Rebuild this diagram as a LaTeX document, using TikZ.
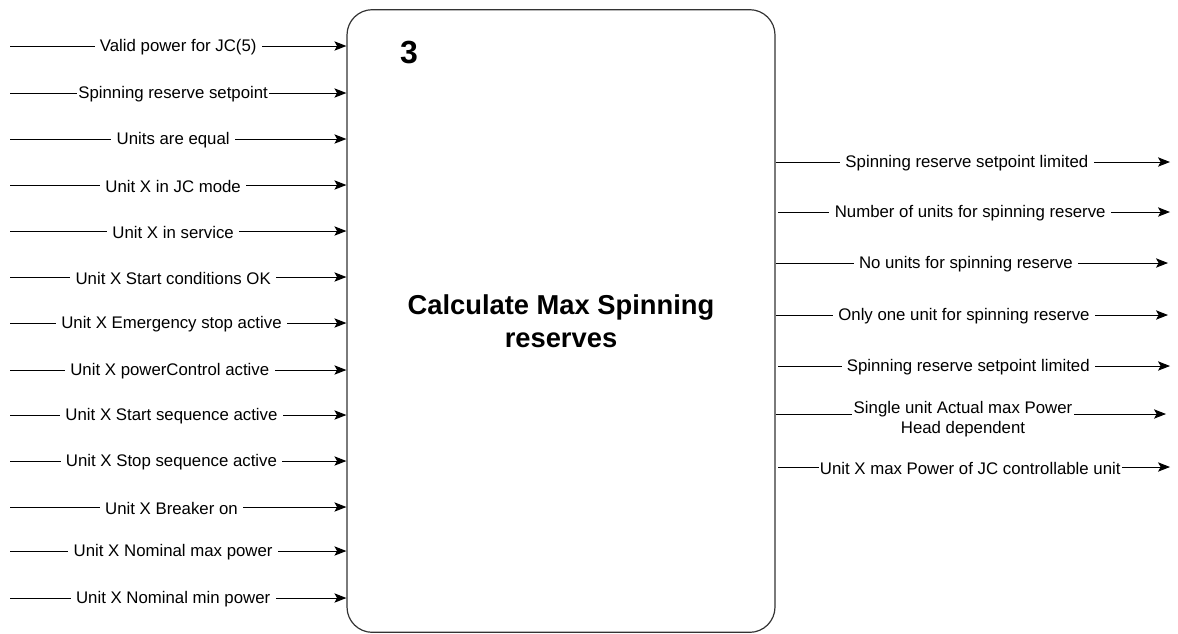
\documentclass[tikz,border=0pt]{standalone}
\usepackage{fontspec}
\setmainfont{Liberation Sans}
\usetikzlibrary{arrows.meta}

\tikzset{
  flow/.style={draw={rgb,255:red,0;green,0;blue,0}, line width=0.75pt, -{Stealth[length=9pt,width=7pt,inset=2pt]}},
  lbl/.style={fill=white, inner xsep=4pt, inner ysep=1pt, yshift=-0.8pt, font=\fontsize{12.6}{14.5}\selectfont},
  block/.style={draw={rgb,255:red,51;green,51;blue,51}, line width=0.9pt, rounded corners=19pt,
    minimum width=321pt, minimum height=467pt, align=center, font=\bfseries\fontsize{20.5}{25}\selectfont}
}

\begin{document}
\begin{tikzpicture}[x=0.75pt,y=0.75pt,yscale=-1]

\useasboundingbox (0,0) rectangle (1178,633);

%Shape: Rounded Rect
\node[block] (calc) at (561,321) {Calculate Max Spinning\\reserves};
% Text Node
\node[anchor=center, font=\bfseries\fontsize{24}{26}\selectfont] (num) at (409,53) {3};

% inputs
\coordinate (i1) at (10,46);
\coordinate (i2) at (10,93);
\coordinate (i3) at (10,139);
\coordinate (i4) at (10,185);
\coordinate (i5) at (10,231);
\coordinate (i6) at (10,277);
\coordinate (i7) at (10,323);
\coordinate (i8) at (10,370);
\coordinate (i9) at (10,415);
\coordinate (i10) at (10,461);
\coordinate (i11) at (10,507);
\coordinate (i12) at (10,551);
\coordinate (i13) at (10,598);

%Straight Lines
\draw[flow] (i1) -- node[lbl, pos=0.5] {Valid power for JC(5)} (calc.west |- i1);
\draw[flow] (i2) -- node[lbl, pos=0.485, inner xsep=1pt] {Spinning reserve setpoint} (calc.west |- i2);
\draw[flow] (i3) -- node[lbl, pos=0.485] {Units are equal} (calc.west |- i3);
\draw[flow] (i4) -- node[lbl, pos=0.485] {Unit X in JC mode} (calc.west |- i4);
\draw[flow] (i5) -- node[lbl, pos=0.485] {Unit X in service} (calc.west |- i5);
\draw[flow] (i6) -- node[lbl, pos=0.485] {Unit X Start conditions OK} (calc.west |- i6);
\draw[flow] (i7) -- node[lbl, pos=0.48] {Unit X Emergency stop active} (calc.west |- i7);
\draw[flow] (i8) -- node[lbl, pos=0.475] {Unit X powerControl active} (calc.west |- i8);
\draw[flow] (i9) -- node[lbl, pos=0.48] {Unit X Start sequence active} (calc.west |- i9);
\draw[flow] (i10) -- node[lbl, pos=0.48] {Unit X Stop sequence active} (calc.west |- i10);
\draw[flow] (i11) -- node[lbl, pos=0.48] {Unit X Breaker on} (calc.west |- i11);
\draw[flow] (i12) -- node[lbl, pos=0.485] {Unit X Nominal max power} (calc.west |- i12);
\draw[flow] (i13) -- node[lbl, pos=0.485] {Unit X Nominal min power} (calc.west |- i13);

% outputs
\coordinate (o1) at (1170,162);
\coordinate (o2) at (1170,212);
\coordinate (o3) at (1168,263);
\coordinate (o4) at (1168,315);
\coordinate (o5) at (1170,366);
\coordinate (o6) at (1166,414);
\coordinate (o7) at (1170,467);

%Straight Lines
\draw[flow] (calc.east |- o1) -- node[lbl, pos=0.485] {Spinning reserve setpoint limited} (o1);
\draw[flow] ([xshift=2pt]calc.east |- o2) -- node[lbl, pos=0.49] {Number of units for spinning reserve} (o2);
\draw[flow] (calc.east |- o3) -- node[lbl, pos=0.485] {No units for spinning reserve} (o3);
\draw[flow] (calc.east |- o4) -- node[lbl, pos=0.48] {Only one unit for spinning reserve} (o4);
\draw[flow] ([xshift=2pt]calc.east |- o5) -- node[lbl, pos=0.485] {Spinning reserve setpoint limited} (o5);
\draw[flow] (calc.east |- o6) -- node[lbl, pos=0.48, align=center, yshift=-3pt, inner xsep=1pt] {Single unit Actual max Power\\Head dependent} (o6);
\draw[flow] ([xshift=2pt]calc.east |- o7) -- node[lbl, pos=0.49, inner xsep=1pt] {Unit X max Power of JC controllable unit} (o7);

\end{tikzpicture}
\end{document}
